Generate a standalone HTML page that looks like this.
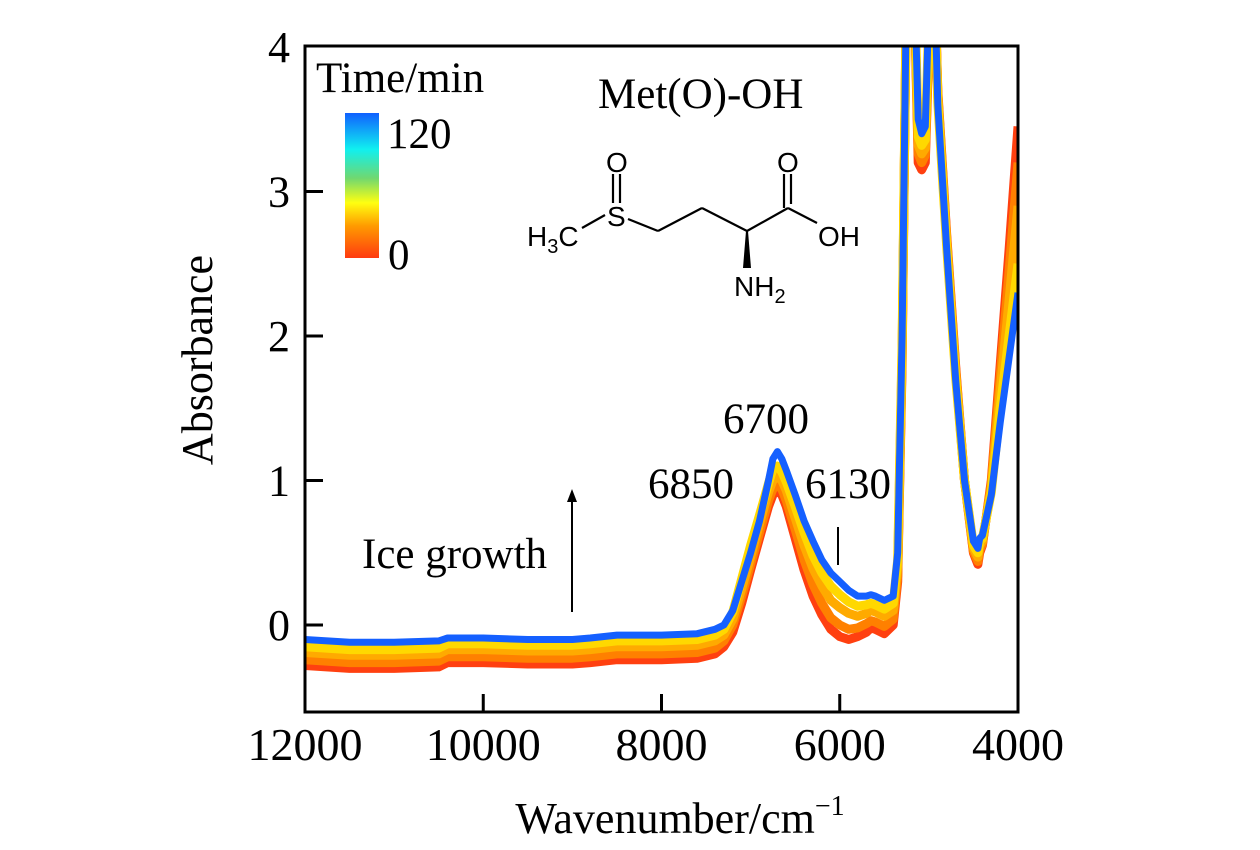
<!DOCTYPE html>
<html><head><meta charset="utf-8"><style>
html,body{margin:0;padding:0;background:#fff;}
svg{display:block;font-family:"Liberation Serif",serif;}
</style></head><body>
<svg id="chart" width="1260" height="850" viewBox="0 0 1260 850" xmlns="http://www.w3.org/2000/svg">
<defs>
<linearGradient id="cbar" x1="0" y1="1" x2="0" y2="0">
<stop offset="0" stop-color="#ff3a10"/><stop offset="0.22" stop-color="#ff9a00"/><stop offset="0.38" stop-color="#ffff10"/><stop offset="0.55" stop-color="#70d870"/><stop offset="0.75" stop-color="#10f0f0"/><stop offset="1" stop-color="#1060ff"/>
</linearGradient>
<clipPath id="plotclip"><rect x="305" y="46" width="713" height="666"/></clipPath>
</defs>
<g id="series" clip-path="url(#plotclip)"></g>
<rect x="305" y="46" width="713" height="666" fill="none" stroke="#000" stroke-width="3"/>
<g id="axes"></g>
<text x="212" y="360" font-size="44" text-anchor="middle" transform="rotate(-90 212 360)">Absorbance</text>
<text x="680" y="833" font-size="44" text-anchor="middle">Wavenumber/cm<tspan font-size="28" dy="-18">−1</tspan></text>
<g>
<text x="316" y="92" font-size="43">Time/min</text>
<rect x="345" y="113" width="34" height="145" fill="url(#cbar)"/>
<text x="387" y="148" font-size="43">120</text>
<text x="388" y="269" font-size="43">0</text>
</g>
<text x="598" y="108" font-size="43">Met(O)-OH</text>
<g stroke="#000" stroke-width="2.2" fill="none" font-family="Liberation Sans, sans-serif">
<line x1="582" y1="228" x2="605" y2="215"/>
<line x1="628" y1="219" x2="658" y2="231"/>
<line x1="658" y1="231" x2="702" y2="208"/>
<line x1="702" y1="208" x2="747" y2="231"/>
<line x1="747" y1="231" x2="788" y2="208"/>
<line x1="613" y1="174" x2="613" y2="203"/>
<line x1="620" y1="174" x2="620" y2="203"/>
<line x1="784" y1="174" x2="784" y2="208"/>
<line x1="791" y1="174" x2="791" y2="204"/>
<line x1="788" y1="208" x2="817" y2="223"/>
<polygon points="746,231 748,231 751,268 743,268" fill="#000" stroke="none"/>
<g fill="#000" stroke="none" font-size="28">
<text x="606" y="172">O</text>
<text x="607" y="226">S</text>
<text x="777" y="172">O</text>
<text x="527" y="246">H<tspan font-size="20" dy="7">3</tspan><tspan dy="-7">C</tspan></text>
<text x="818" y="246">OH</text>
<text x="734" y="296">NH<tspan font-size="20" dy="7">2</tspan></text>
</g>
</g>
<text x="766" y="433" font-size="43" text-anchor="middle">6700</text>
<text x="691" y="498" font-size="43" text-anchor="middle">6850</text>
<text x="848" y="498" font-size="43" text-anchor="middle">6130</text>
<line x1="838" y1="527" x2="838" y2="565" stroke="#000" stroke-width="2"/>
<text x="362" y="568" font-size="43">Ice growth</text>
<g>
<line x1="572" y1="612" x2="572" y2="500" stroke="#000" stroke-width="2"/>
<polygon points="572,489 567,502 577,502" fill="#000"/>
</g>
<script>
const wavenumbers=[12000,11500,11000,10500,10400,10000,9500,9000,8800,8500,8000,7600,7400,7300,7200,7100,7000,6900,6800,6750,6700,6650,6600,6500,6400,6300,6200,6100,6000,5900,5800,5700,5650,5600,5500,5400,5350,5300,5250,5200,5150,5120,5080,5040,5000,4960,4900,4800,4700,4600,4500,4450,4430,4400,4300,4200,4100,4000];
const series0=[-0.28,-0.30,-0.30,-0.29,-0.26,-0.26,-0.27,-0.27,-0.26,-0.24,-0.24,-0.23,-0.20,-0.15,-0.05,0.15,0.38,0.60,0.82,0.90,0.93,0.90,0.82,0.60,0.38,0.20,0.07,-0.03,-0.08,-0.10,-0.08,-0.05,-0.02,-0.03,-0.06,0.00,0.30,1.8,4.5,5,4.0,3.2,3.15,3.2,4.0,5,3.7,2.7,1.8,1.0,0.50,0.42,0.50,0.55,1.0,1.8,2.6,3.45];
const series30=[-0.24,-0.26,-0.26,-0.25,-0.22,-0.22,-0.23,-0.23,-0.22,-0.20,-0.20,-0.19,-0.16,-0.11,0.00,0.20,0.42,0.64,0.86,0.94,0.97,0.94,0.86,0.66,0.45,0.28,0.15,0.05,0.00,-0.03,-0.02,0.01,0.03,0.02,-0.01,0.04,0.34,1.85,4.5,5,4.05,3.26,3.2,3.25,4.05,5,3.68,2.68,1.78,1.0,0.51,0.44,0.52,0.56,0.98,1.72,2.45,3.2];
const series60=[-0.19,-0.21,-0.21,-0.20,-0.17,-0.17,-0.18,-0.18,-0.17,-0.15,-0.15,-0.14,-0.11,-0.07,0.04,0.25,0.47,0.70,0.92,1.00,1.03,1.00,0.93,0.74,0.55,0.39,0.27,0.17,0.12,0.08,0.06,0.08,0.10,0.09,0.06,0.10,0.40,1.9,4.5,5,4.1,3.32,3.26,3.3,4.1,5,3.66,2.65,1.75,1.0,0.53,0.47,0.55,0.58,0.95,1.62,2.25,2.9];
const series90=[-0.15,-0.17,-0.17,-0.16,-0.13,-0.13,-0.14,-0.14,-0.13,-0.11,-0.11,-0.10,-0.07,-0.03,0.09,0.32,0.55,0.76,0.98,1.08,1.10,1.06,0.99,0.82,0.64,0.48,0.36,0.27,0.21,0.16,0.13,0.14,0.15,0.14,0.11,0.15,0.45,1.95,4.5,5,4.15,3.38,3.32,3.36,4.2,5,3.62,2.62,1.72,1.0,0.55,0.50,0.58,0.60,0.92,1.5,2.0,2.5];
const series120=[-0.10,-0.12,-0.12,-0.11,-0.09,-0.09,-0.10,-0.10,-0.09,-0.07,-0.07,-0.06,-0.03,0.00,0.10,0.30,0.50,0.72,1.00,1.15,1.20,1.15,1.07,0.90,0.72,0.58,0.45,0.36,0.30,0.24,0.20,0.20,0.21,0.20,0.17,0.20,0.50,2.0,4.5,5,4.2,3.5,3.4,3.45,4.3,5,3.6,2.6,1.7,1.0,0.58,0.53,0.60,0.62,0.90,1.4,1.85,2.3];
const seriesList=[series0,series30,series60,series90,series120];
const seriesNames=['t-0','t-30','t-60','t-90','t-120'];
const seriesColors=['#ff4010','#ff8000','#ffaa00','#ffd800','#1560ff'];
const xTicks=[12000,10000,8000,6000,4000];
const yTicks=[0,1,2,3,4];

const NS='http://www.w3.org/2000/svg';
function xs(w){return 305+(12000-w)/8000*713;}
function ys(v){return 625-v*144.5;}
const g=document.getElementById('series');
seriesList.forEach((s,i)=>{
  const p=document.createElementNS(NS,'path');
  let d='';
  wavenumbers.forEach((w,j)=>{d+=(j?'L':'M')+xs(w).toFixed(1)+','+ys(s[j]).toFixed(1);});
  p.setAttribute('d',d);
  p.setAttribute('fill','none');
  p.setAttribute('stroke',seriesColors[i]);
  p.setAttribute('stroke-width',i==4?7:9);
  p.setAttribute('stroke-linejoin','round');
  
  
  g.appendChild(p);
});
const ax=document.getElementById('axes');
xTicks.forEach(t=>{
  const x=xs(t);
  if(t!==12000&&t!==4000){
    const l=document.createElementNS(NS,'line');
    l.setAttribute('x1',x);l.setAttribute('x2',x);l.setAttribute('y1',712);l.setAttribute('y2',694);
    l.setAttribute('stroke','#000');l.setAttribute('stroke-width',3);
    
    
    ax.appendChild(l);
  }
  const tx=document.createElementNS(NS,'text');
  tx.setAttribute('x',x);tx.setAttribute('y',760);tx.setAttribute('font-size','46');tx.setAttribute('text-anchor','middle');
  tx.textContent=t;
  
  
  ax.appendChild(tx);
});
yTicks.forEach(t=>{
  const y=ys(t);
  if(t!==4){
    const l=document.createElementNS(NS,'line');
    l.setAttribute('x1',305);l.setAttribute('x2',323);l.setAttribute('y1',y);l.setAttribute('y2',y);
    l.setAttribute('stroke','#000');l.setAttribute('stroke-width',3);
    
    
    ax.appendChild(l);
  }
  const tx=document.createElementNS(NS,'text');
  tx.setAttribute('x',290);tx.setAttribute('y',y+15);tx.setAttribute('font-size','44');tx.setAttribute('text-anchor','end');
  tx.textContent=t;
  
  
  ax.appendChild(tx);
});
</script>
</svg>
</body></html>
